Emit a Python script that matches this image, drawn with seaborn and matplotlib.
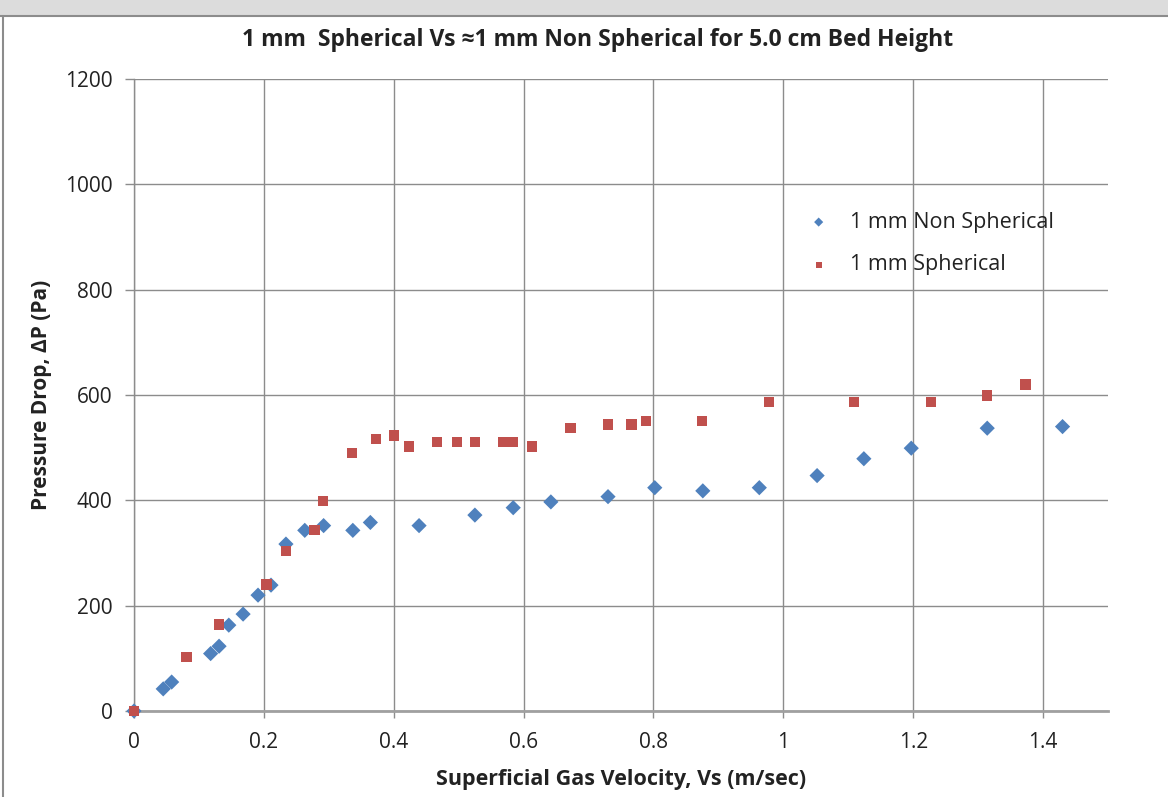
import numpy as np
import pandas as pd
import matplotlib
matplotlib.use("Agg")
import matplotlib.pyplot as plt
import seaborn as sns
from matplotlib.patches import Rectangle

# Data
ns_velocity = [0.0, 0.045, 0.058, 0.118, 0.131, 0.146, 0.168, 0.191, 0.211, 0.234,
               0.263, 0.292, 0.337, 0.364, 0.439, 0.525, 0.584, 0.642, 0.730, 0.802,
               0.876, 0.963, 1.052, 1.124, 1.197, 1.314, 1.430]
ns_pressure = [0, 42, 55, 109, 123, 163, 184, 220, 239, 317,
               343, 352, 343, 358, 352, 372, 386, 397, 407, 424,
               418, 424, 447, 479, 499, 537, 540]

sp_velocity = [0.0, 0.081, 0.131, 0.204, 0.234, 0.278, 0.291, 0.336, 0.373, 0.400,
               0.424, 0.467, 0.497, 0.525, 0.569, 0.584, 0.613, 0.672, 0.730, 0.766,
               0.788, 0.875, 0.978, 1.109, 1.227, 1.314, 1.373]
sp_pressure = [0, 103, 164, 240, 304, 344, 399, 490, 516, 523,
               502, 511, 511, 511, 511, 511, 502, 538, 544, 544,
               551, 551, 587, 587, 587, 599, 620]

series_names = ["1 mm Non Spherical", "1 mm Spherical"]
x_ticks = [0, 0.2, 0.4, 0.6, 0.8, 1.0, 1.2, 1.4]
x_tick_labels = ["0", "0.2", "0.4", "0.6", "0.8", "1", "1.2", "1.4"]
y_ticks = [0, 200, 400, 600, 800, 1000, 1200]

df = pd.concat([
    pd.DataFrame({"v": ns_velocity, "p": ns_pressure, "series": series_names[0]}),
    pd.DataFrame({"v": sp_velocity, "p": sp_pressure, "series": series_names[1]}),
], ignore_index=True)

sns.set_theme(style="white")
plt.rcParams["font.family"] = ["Open Sans", "DejaVu Sans"]

fig = plt.figure(figsize=(11.68, 7.97), dpi=100)
fig.patch.set_facecolor("white")
# Excel-like window frame
fig.patches.append(Rectangle((0, 1 - 15 / 797), 1, 15 / 797, transform=fig.transFigure,
                             facecolor="#dcdcdc", edgecolor="none", zorder=0))
fig.add_artist(plt.Line2D([0, 1], [1 - 16 / 797, 1 - 16 / 797], transform=fig.transFigure,
                          color="#8c8c8c", lw=1.5))
fig.add_artist(plt.Line2D([3 / 1168, 3 / 1168], [0, 1 - 16 / 797], transform=fig.transFigure,
                          color="#8c8c8c", lw=1.5))

ax = fig.add_axes([134 / 1168, 86 / 797, (1108 - 134) / 1168, (711 - 79) / 797])

palette = {series_names[0]: "#4F81BD", series_names[1]: "#C0504D"}
markers = {series_names[0]: "D", series_names[1]: "s"}
sizes_map = {series_names[0]: 60, series_names[1]: 55}
for name in series_names:
    sub = df[df["series"] == name]
    sns.scatterplot(data=sub, x="v", y="p", ax=ax, color=palette[name],
                    marker=markers[name], s=sizes_map[name], edgecolor="none",
                    label=name, zorder=3, clip_on=False)

ax.set_xlim(0, 1.5)
ax.set_ylim(0, 1200)
ax.set_xticks(x_ticks)
ax.set_xticklabels(x_tick_labels)
ax.set_yticks(y_ticks)
ax.grid(True, color="#8c8c8c", linewidth=1.0)
ax.set_axisbelow(True)
for side in ["top", "right"]:
    ax.spines[side].set_visible(False)
ax.spines["left"].set_color("#8c8c8c")
ax.spines["left"].set_linewidth(1.0)
ax.spines["bottom"].set_color("#a0a0a0")
ax.spines["bottom"].set_linewidth(2.0)
ax.tick_params(axis="both", which="major", direction="out", width=1,
               color="#8c8c8c", labelsize=15, labelcolor="#222222",
               bottom=True, left=True)
ax.tick_params(axis="y", length=6.5, pad=9)
ax.tick_params(axis="x", length=5, pad=10)

ax.set_xlabel("Superficial Gas Velocity, Vs (m/sec)", fontsize=15.5, fontweight="bold",
              color="#222222", labelpad=12)
ax.set_ylabel("Pressure Drop, ΔP (Pa)", fontsize=15, fontweight="bold",
              color="#222222", labelpad=9)
fig.text(598 / 1168, 1 - 40 / 797,
         "1 mm  Spherical Vs ≈1 mm Non Spherical for 5.0 cm Bed Height",
         ha="center", va="center", fontsize=16.5, fontweight="bold", color="#222222")

leg = ax.legend(loc="upper left", bbox_to_anchor=(0.693, 0.79), frameon=False,
                fontsize=15.5, markerscale=0.6, handlelength=0.9, handletextpad=1.0,
                labelspacing=1.0, borderaxespad=0, borderpad=0)
for t in leg.get_texts():
    t.set_color("#222222")

fig.savefig("out.png", dpi=100)
